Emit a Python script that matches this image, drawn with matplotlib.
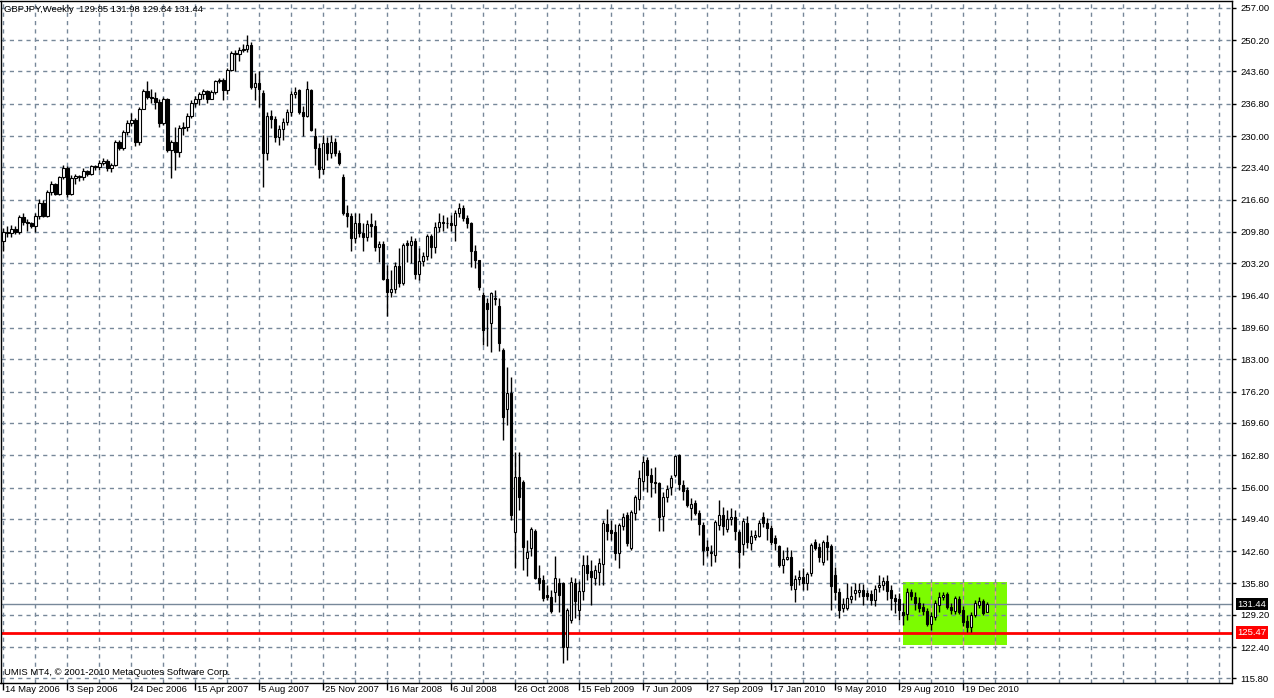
import matplotlib
matplotlib.use("Agg")
import matplotlib.pyplot as plt
import matplotlib.transforms as mtransforms
from matplotlib.patches import Rectangle

# weekly GBPJPY candles, 14 May 2006 .. end of Jan 2011
opens = [
    208.0, 209.9, 209.5, 210.4, 209.7, 212.9, 211.8, 211.6, 211.0, 213.1,
    216.0, 213.1, 218.3, 219.8, 217.9, 221.3, 223.2, 217.9, 221.1, 221.5,
    221.3, 222.6, 222.1, 223.6, 223.4, 224.4, 224.7, 223.2, 224.0, 228.7,
    227.4, 230.8, 232.7, 233.3, 228.7, 235.8, 239.4, 238.3, 238.1, 237.1,
    232.7, 237.7, 227.0, 228.7, 226.6, 231.8, 232.0, 234.3, 236.9, 237.9,
    238.8, 239.4, 237.9, 239.2, 241.5, 241.7, 239.6, 244.0, 247.4, 247.2,
    248.2, 248.4, 249.1, 240.4, 241.1, 239.0, 226.4, 234.3, 233.5, 229.9,
    231.4, 232.9, 235.0, 238.8, 239.6, 235.0, 234.3, 239.6, 230.1, 227.4,
    223.0, 228.5, 226.4, 228.7, 226.4, 221.3, 213.7, 213.1, 208.5, 211.6,
    209.5, 208.7, 211.4, 211.0, 206.6, 207.2, 200.0, 197.1, 197.9, 202.6,
    199.0, 207.4, 207.0, 208.0, 200.9, 203.6, 204.7, 208.9, 206.6, 210.8,
    211.8, 211.7, 211.6, 211.2, 213.7, 214.8, 212.7, 211.6, 205.9, 203.8,
    196.5, 194.8, 190.6, 196.0, 194.2, 184.9, 172.5, 175.9, 146.6, 158.2,
    157.1, 141.1, 143.2, 146.8, 136.9, 136.5, 133.4, 132.9, 134.0, 135.9,
    135.9, 122.4, 128.1, 135.9, 130.2, 134.2, 139.7, 138.4, 136.9, 138.2,
    139.9, 148.3, 147.0, 146.6, 142.2, 147.9, 150.2, 143.2, 150.6, 153.5,
    157.3, 161.8, 158.6, 157.1, 156.9, 150.0, 154.0, 156.1, 158.6, 162.8,
    156.5, 155.4, 151.7, 152.7, 150.6, 148.1, 143.4, 142.4, 141.8, 148.1,
    150.2, 147.2, 149.3, 149.8, 146.6, 144.1, 148.5, 144.3, 145.6, 145.8,
    149.8, 148.5, 147.4, 145.3, 143.7, 139.7, 140.9, 141.4, 134.6, 136.7,
    137.1, 135.9, 138.0, 144.5, 143.4, 140.3, 144.5, 143.7, 137.6, 134.0,
    130.6, 130.6, 132.5, 133.8, 134.0, 134.4, 133.8, 133.6, 132.3, 135.0,
    135.5, 136.3, 134.4, 132.7, 132.5, 129.8, 129.4, 134.0, 132.9, 131.7,
    130.8, 130.0, 127.3, 128.7, 131.3, 132.9, 133.6, 130.8, 130.0, 132.5,
    130.2, 127.9, 126.6, 129.1, 131.3, 132.1, 129.85,
]
highs = [
    210.6, 211.0, 211.2, 211.0, 213.3, 213.7, 212.6, 211.8, 213.7, 216.7,
    216.5, 218.6, 220.5, 220.2, 221.5, 223.8, 223.6, 221.7, 222.1, 221.9,
    223.2, 222.8, 224.0, 224.0, 224.9, 225.3, 225.1, 224.4, 229.1, 229.1,
    231.2, 233.3, 234.8, 233.9, 236.2, 240.0, 241.5, 240.0, 239.2, 237.7,
    238.3, 238.1, 229.1, 232.0, 232.4, 232.9, 234.8, 237.5, 238.5, 239.2,
    240.0, 239.8, 239.8, 241.9, 242.3, 242.3, 244.4, 248.0, 248.2, 248.7,
    249.3, 251.2, 249.7, 243.2, 243.8, 239.6, 235.0, 235.4, 234.3, 232.4,
    233.7, 235.8, 239.4, 240.4, 240.0, 236.4, 241.5, 240.0, 231.6, 228.5,
    230.3, 229.7, 230.3, 229.5, 227.0, 222.0, 215.4, 213.9, 213.7, 213.9,
    211.6, 212.3, 213.9, 212.3, 208.0, 208.0, 202.8, 201.7, 203.4, 206.4,
    207.4, 208.2, 208.9, 208.5, 206.4, 205.5, 209.3, 209.3, 211.8, 213.9,
    213.3, 212.9, 213.3, 214.4, 215.8, 215.4, 213.3, 211.8, 207.0, 203.8,
    197.1, 195.8, 197.1, 197.5, 196.0, 185.3, 181.3, 179.2, 163.4, 163.4,
    157.5, 145.0, 147.7, 147.2, 139.7, 137.6, 135.5, 134.4, 141.5, 136.9,
    136.2, 130.6, 137.1, 136.9, 136.3, 141.8, 141.8, 140.7, 139.7, 141.1,
    149.1, 151.4, 149.1, 148.3, 148.5, 150.6, 150.8, 151.2, 154.4, 159.6,
    162.6, 162.4, 160.1, 160.3, 157.1, 155.0, 156.5, 158.6, 162.8, 163.0,
    157.5, 156.1, 153.8, 153.3, 151.2, 148.7, 144.9, 143.9, 149.1, 153.3,
    151.9, 151.2, 151.6, 151.2, 147.0, 149.5, 149.9, 147.0, 147.0, 149.1,
    150.8, 149.5, 148.1, 145.9, 143.9, 142.8, 143.4, 142.8, 137.6, 138.6,
    139.0, 138.2, 144.3, 145.1, 144.3, 144.9, 145.9, 144.1, 139.2, 134.8,
    132.7, 135.9, 135.2, 135.9, 135.9, 135.7, 134.4, 134.4, 135.5, 137.6,
    137.1, 137.6, 135.5, 133.6, 133.8, 131.7, 134.8, 134.6, 134.0, 132.9,
    131.7, 130.6, 129.8, 132.3, 134.0, 134.0, 134.0, 131.7, 133.1, 133.1,
    131.0, 129.1, 129.8, 132.3, 132.9, 132.5, 131.98,
]
lows = [
    205.9, 208.7, 208.7, 209.3, 209.4, 211.2, 210.1, 210.6, 209.7, 212.6,
    212.9, 212.9, 217.5, 217.5, 217.5, 220.9, 217.1, 217.5, 220.0, 220.5,
    220.7, 221.5, 221.9, 222.8, 222.8, 223.8, 222.6, 222.4, 223.6, 227.0,
    227.0, 230.3, 232.2, 227.8, 228.2, 235.8, 237.9, 236.9, 235.8, 232.0,
    232.4, 226.6, 221.1, 222.8, 225.5, 230.3, 231.0, 233.7, 236.2, 236.6,
    237.7, 236.9, 237.9, 238.8, 241.1, 237.5, 238.8, 243.6, 243.8, 245.9,
    247.6, 247.6, 240.0, 237.5, 236.2, 219.2, 224.9, 231.6, 228.7, 228.2,
    229.1, 232.4, 234.3, 238.1, 234.6, 230.1, 234.1, 231.0, 223.8, 221.1,
    222.1, 224.9, 225.3, 225.9, 223.8, 213.3, 210.8, 205.9, 207.4, 208.7,
    205.7, 208.0, 208.7, 205.9, 203.4, 199.6, 192.2, 196.2, 196.9, 198.2,
    198.6, 203.4, 203.2, 200.0, 199.6, 202.6, 203.8, 204.3, 205.3, 209.7,
    210.1, 210.6, 210.1, 208.0, 212.9, 212.2, 210.6, 202.4, 202.2, 197.5,
    186.0, 185.9, 184.5, 194.4, 184.7, 166.0, 169.1, 149.1, 139.0, 151.2,
    138.6, 137.4, 141.6, 136.7, 134.4, 132.1, 132.3, 129.6, 131.9, 129.8,
    119.0, 119.7, 127.5, 128.5, 128.1, 132.3, 136.5, 131.2, 135.5, 135.5,
    135.5, 144.9, 144.9, 140.7, 139.0, 147.0, 143.7, 142.8, 149.1, 151.2,
    155.4, 155.0, 154.0, 154.8, 146.8, 146.8, 152.9, 154.4, 158.2, 155.4,
    153.3, 151.9, 149.1, 150.2, 146.0, 139.7, 141.6, 139.4, 140.3, 147.0,
    146.0, 146.6, 148.1, 144.9, 139.0, 141.8, 143.2, 142.8, 144.9, 145.6,
    147.7, 144.9, 143.9, 142.8, 139.2, 138.0, 140.7, 134.4, 131.9, 135.5,
    134.4, 134.4, 137.3, 142.8, 140.3, 139.7, 140.7, 130.2, 132.3, 128.5,
    129.8, 130.2, 131.7, 132.3, 132.9, 131.2, 132.3, 131.2, 131.0, 134.0,
    134.4, 132.3, 130.2, 129.6, 128.1, 127.0, 128.1, 132.3, 130.2, 129.8,
    129.1, 126.8, 126.0, 128.1, 129.8, 132.3, 130.4, 129.4, 129.4, 129.4,
    126.8, 125.6, 125.6, 128.7, 130.6, 129.1, 129.84,
]
closes = [
    209.9, 209.5, 210.4, 209.7, 212.9, 211.8, 211.6, 211.0, 213.1, 215.8,
    213.1, 218.3, 219.8, 217.9, 221.3, 223.2, 217.9, 221.1, 221.5, 221.3,
    222.6, 222.1, 223.6, 223.4, 224.4, 224.7, 223.2, 224.0, 228.7, 227.4,
    230.8, 232.7, 233.3, 228.7, 235.8, 239.4, 238.3, 238.1, 237.1, 232.7,
    237.7, 227.0, 228.7, 226.6, 231.8, 232.0, 234.3, 236.9, 237.9, 238.8,
    239.4, 237.9, 239.2, 241.5, 241.7, 239.6, 244.0, 247.4, 247.2, 248.2,
    248.4, 249.1, 240.4, 241.1, 240.0, 226.4, 234.3, 233.5, 229.9, 231.4,
    232.9, 235.0, 238.8, 239.2, 235.0, 234.3, 240.0, 231.2, 227.4, 223.0,
    228.5, 226.4, 228.7, 226.4, 224.4, 213.7, 213.1, 208.5, 211.6, 209.5,
    208.7, 211.4, 211.0, 206.6, 207.2, 200.0, 197.1, 197.9, 202.6, 199.0,
    207.0, 207.0, 208.0, 200.9, 203.6, 204.7, 208.9, 206.6, 210.8, 211.8,
    211.7, 211.6, 211.2, 213.7, 214.8, 212.7, 211.6, 205.9, 203.8, 198.2,
    189.1, 193.5, 196.9, 195.6, 186.4, 170.8, 175.9, 150.2, 158.2, 154.0,
    143.4, 142.4, 147.2, 136.9, 135.9, 132.7, 132.9, 130.0, 136.9, 133.4,
    122.4, 130.2, 136.1, 132.1, 134.2, 139.7, 138.0, 137.1, 138.6, 140.1,
    148.5, 146.8, 146.4, 142.2, 148.1, 149.8, 144.3, 150.8, 154.0, 158.0,
    161.3, 158.6, 157.1, 156.9, 149.8, 154.0, 155.7, 158.0, 162.6, 156.7,
    155.2, 152.3, 152.5, 150.6, 148.3, 142.8, 142.8, 142.2, 148.7, 150.2,
    147.9, 149.3, 149.7, 146.8, 142.4, 148.9, 144.5, 145.8, 146.0, 148.5,
    148.5, 147.4, 144.5, 144.3, 139.7, 140.9, 141.3, 135.5, 136.7, 137.1,
    135.9, 137.8, 143.9, 143.2, 141.3, 144.5, 143.4, 135.2, 134.0, 130.2,
    131.5, 132.7, 133.1, 134.4, 134.4, 133.1, 133.1, 132.3, 134.6, 135.5,
    136.3, 134.2, 132.7, 132.1, 130.2, 129.1, 134.0, 133.1, 131.7, 130.6,
    130.0, 127.3, 128.9, 131.7, 132.9, 133.4, 130.8, 130.2, 132.7, 129.8,
    127.7, 126.6, 129.1, 131.7, 132.1, 129.6, 131.44,
]

date_labels = ["14 May 2006", "3 Sep 2006", "24 Dec 2006", "15 Apr 2007",
               "5 Aug 2007", "25 Nov 2007", "16 Mar 2008", "6 Jul 2008",
               "26 Oct 2008", "15 Feb 2009", "7 Jun 2009", "27 Sep 2009",
               "17 Jan 2010", "9 May 2010", "29 Aug 2010", "19 Dec 2010"]
price_labels = ["257.00", "250.20", "243.60", "236.80", "230.00", "223.40",
                "216.60", "209.80", "203.20", "196.40", "189.60", "183.00",
                "176.20", "169.60", "162.80", "156.00", "149.40", "142.60",
                "135.80", "129.20", "122.40", "115.80"]
bid_price = 131.44
support_level = 125.47
box_bars = (225, 251)
box_prices = (122.8, 136.1)

grid_col = "#778899"
fs = 6.8
plt.rcParams['font.family'] = ['Liberation Sans', 'DejaVu Sans']

fig = plt.figure(figsize=(12.74, 6.98), dpi=100)
ax = fig.add_axes([0.5 / 1274, 15 / 698, 1231.5 / 1274, 682.5 / 698])

n = len(closes)
xs = list(range(n))
grid_bars = list(range(0, 308, 8))

# rectangle object drawn behind everything
ax.add_patch(Rectangle((box_bars[0], box_prices[0]), box_bars[1] - box_bars[0],
                       box_prices[1] - box_prices[0], facecolor="#7cfc00",
                       edgecolor="none", zorder=0.5))
# vertical grid shows pinkish over the filled rectangle
in_box = [g for g in grid_bars if box_bars[0] < g < box_bars[1]]
ax.vlines(in_box, box_prices[0], box_prices[1], color="#e8a08c",
          linewidth=1, linestyle=(0, (3, 3)), zorder=1.5)

# candles
ax.vlines(xs, lows, highs, color="black", linewidth=1, zorder=3)
for i in xs:
    o, c = opens[i], closes[i]
    lo, hi = min(o, c), max(o, c)
    h = max(hi - lo, 0.05)
    fc = "white" if c >= o else "black"
    ax.bar(i, h, bottom=lo, width=0.55, facecolor=fc, edgecolor="black",
           linewidth=0.8, zorder=4)

# bid line and horizontal line object
ax.axhline(bid_price, color=grid_col, linewidth=1, zorder=2)
ax.axhline(support_level, color="red", linewidth=2, zorder=2)

ax.set_xlim(-0.75, 307.25)
ax.set_ylim(114.84, 258.54)

price_vals = [float(p) for p in price_labels]
ax.set_yticks(price_vals)
ax.set_yticklabels(price_labels)
ax.yaxis.tick_right()
ax.tick_params(axis="y", direction="out", length=3, width=1, pad=3,
               labelsize=fs, colors="black")

ax.set_xticks(range(0, 16 * len(date_labels), 16))
ax.set_xticklabels(date_labels, ha="left")
ax.set_xticks(grid_bars, minor=True)
ax.tick_params(axis="x", which="major", direction="out", length=5, width=1,
               pad=-3.5, labelsize=fs)
ax.tick_params(axis="x", which="minor", length=0)
for lbl in ax.get_xticklabels():
    lbl.set_transform(lbl.get_transform() +
                      mtransforms.ScaledTranslation(2 / 100, 0, fig.dpi_scale_trans))

ax.grid(True, which="both", axis="x", color=grid_col, linestyle=(0, (3, 3)),
        linewidth=1, zorder=1)
ax.grid(True, which="major", axis="y", color=grid_col, linestyle=(0, (3, 3)),
        linewidth=1, zorder=1)
ax.set_axisbelow(True)
for s in ax.spines.values():
    s.set_color("black")
    s.set_linewidth(1)

# price boxes on the right scale
trans = mtransforms.blended_transform_factory(ax.transAxes, ax.transData)
ax.text(1.0045, bid_price, "131.44", transform=trans, color="white",
        fontsize=fs, va="center", ha="left", zorder=10,
        bbox=dict(facecolor="black", edgecolor="none", pad=1.3), clip_on=False)
ax.text(1.0045, support_level, "125.47", transform=trans, color="white",
        fontsize=fs, va="center", ha="left", zorder=10,
        bbox=dict(facecolor="red", edgecolor="none", pad=1.3), clip_on=False)

ax.text(0.0025, 0.9935, "GBPJPY,Weekly  129.85 131.98 129.84 131.44",
        transform=ax.transAxes, fontsize=fs, va="top", ha="left")
ax.text(0.0025, 0.016, "UMIS MT4, \u00a9 2001-2010 MetaQuotes Software Corp.",
        transform=ax.transAxes, fontsize=fs, va="center", ha="left")

fig.savefig("out.png", dpi=100, facecolor="white")
